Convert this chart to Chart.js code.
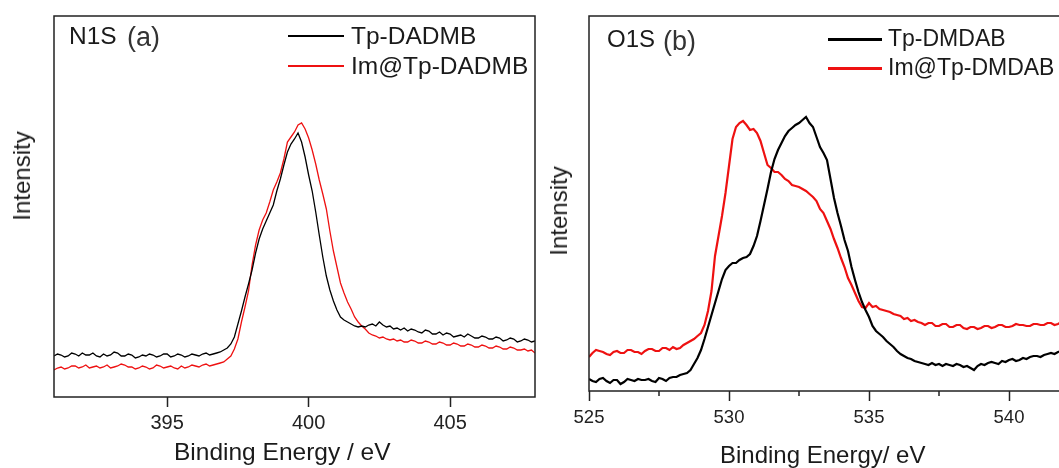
<!DOCTYPE html>
<html>
<head>
<meta charset="utf-8">
<script src="https://cdn.jsdelivr.net/npm/chart.js@4/dist/chart.umd.min.js"></script>
<style>
  html, body { margin: 0; padding: 0; background: #fff; }
  body { width: 1059px; height: 468px; overflow: hidden; position: relative;
         font-family: "Liberation Sans", Arial, sans-serif; color: #1a1a1a; }
  canvas { position: absolute; top: 0; }
  #chartA { left: 0; }
  #chartB { left: 540px; }
  .lbl { position: absolute; white-space: nowrap; line-height: 1; }
  .rot { transform: translate(-50%, -50%) rotate(-90deg); }
  .key { position: absolute; }
</style>
</head>
<body>
<canvas id="chartA" width="540" height="468"></canvas>
<canvas id="chartB" width="540" height="468"></canvas>

<!-- panel (a) texts -->
<div class="lbl" style="left:69px; top:24px; font-size:24.5px;">N1S</div>
<div class="lbl" style="left:127px; top:24px; font-size:27px; font-weight:300; color:#333;">(a)</div>
<div class="key" style="left:288px; top:35px; width:56px; height:1.5px; background:#000;"></div>
<div class="lbl" style="left:351px; top:24px; font-size:24.5px;">Tp-DADMB</div>
<div class="key" style="left:288px; top:65px; width:56px; height:1.5px; background:#ee1111;"></div>
<div class="lbl" style="left:351px; top:54px; font-size:24.5px;">Im@Tp-DADMB</div>
<div class="lbl" style="left:174px; top:440px; font-size:24.5px;">Binding Energy / eV</div>
<div class="lbl rot" style="left:22px; top:176px; font-size:24px;">Intensity</div>

<!-- panel (b) texts -->
<div class="lbl" style="left:607px; top:27px; font-size:24px;">O1S</div>
<div class="lbl" style="left:663px; top:28px; font-size:27px; font-weight:300; color:#333;">(b)</div>
<div class="key" style="left:828px; top:38px; width:54px; height:2.5px; background:#000;"></div>
<div class="lbl" style="left:888px; top:27px; font-size:23px;">Tp-DMDAB</div>
<div class="key" style="left:828px; top:67px; width:54px; height:2.5px; background:#ee1111;"></div>
<div class="lbl" style="left:888px; top:56px; font-size:23px;">Im@Tp-DMDAB</div>
<div class="lbl" style="left:720px; top:443px; font-size:24px;">Binding Energy/ eV</div>
<div class="lbl rot" style="left:559px; top:211px; font-size:24px;">Intensity</div>

<script>
// N1S panel (a)
const energyA = [
  391, 391.125, 391.25, 391.375, 391.5, 391.625, 391.75, 391.875,
  392, 392.125, 392.25, 392.375, 392.5, 392.625, 392.75, 392.875,
  393, 393.125, 393.25, 393.375, 393.5, 393.625, 393.75, 393.875,
  394, 394.125, 394.25, 394.375, 394.5, 394.625, 394.75, 394.875,
  395, 395.125, 395.25, 395.375, 395.5, 395.625, 395.75, 395.875,
  396, 396.125, 396.25, 396.375, 396.5, 396.625, 396.75, 396.875,
  397, 397.125, 397.25, 397.375, 397.5, 397.625, 397.75, 397.875,
  398, 398.125, 398.25, 398.375, 398.5, 398.625, 398.75, 398.875,
  399, 399.125, 399.25, 399.375, 399.5, 399.625, 399.75, 399.875,
  400, 400.125, 400.25, 400.375, 400.5, 400.625, 400.75, 400.875,
  401, 401.125, 401.25, 401.375, 401.5, 401.625, 401.75, 401.875,
  402, 402.125, 402.25, 402.375, 402.5, 402.625, 402.75, 402.875,
  403, 403.125, 403.25, 403.375, 403.5, 403.625, 403.75, 403.875,
  404, 404.125, 404.25, 404.375, 404.5, 404.625, 404.75, 404.875,
  405, 405.125, 405.25, 405.375, 405.5, 405.625, 405.75, 405.875,
  406, 406.125, 406.25, 406.375, 406.5, 406.625, 406.75, 406.875,
  407, 407.125, 407.25, 407.375, 407.5, 407.625, 407.75, 407.875,
  408
];
const tpDadmb = [
  41, 43, 42, 40, 41, 44, 43, 41,
  44, 42, 42, 44, 41, 40, 43, 41,
  42, 45, 44, 41, 41, 43, 42, 39,
  40, 42, 41, 43, 42, 40, 41, 43,
  43, 40, 41, 43, 42, 40, 41, 43,
  42, 41, 43, 44, 42, 43, 44, 45,
  47, 49, 53, 60, 73, 86, 100, 113,
  127, 144, 158, 168, 176, 184, 192, 206,
  218, 232, 245, 253, 258, 264, 255, 240,
  222, 206, 185, 162, 140, 121, 107, 96,
  87, 80, 77, 75, 73, 71, 70, 71,
  70, 72, 73, 71, 75, 72, 70, 71,
  68, 69, 67, 69, 66, 68, 67, 65,
  64, 67, 66, 63, 63, 65, 62, 64,
  63, 60, 61, 62, 60, 63, 61, 59,
  59, 61, 60, 58, 58, 60, 59, 56,
  57, 59, 58, 55, 56, 58, 57, 55,
  56
];
const imTpDadmb = [
  27, 29, 30, 28, 29, 31, 31, 29,
  30, 32, 29, 30, 31, 29, 30, 32,
  29, 30, 31, 33, 32, 30, 30, 28,
  29, 31, 30, 28, 29, 32, 31, 29,
  30, 31, 29, 28, 31, 29, 30, 32,
  31, 30, 32, 33, 31, 32, 33, 34,
  35, 38, 41, 48, 58, 75, 90, 106,
  132, 152, 167, 177, 184, 195, 207, 215,
  224, 238, 255, 260, 265, 272, 274, 268,
  259, 247, 233, 217, 203, 188, 166, 146,
  130, 114, 104, 95, 88, 80, 75, 71,
  68, 64, 62, 61, 59, 60, 58, 57,
  58, 56, 57, 55, 55, 57, 56, 54,
  54, 56, 55, 53, 53, 55, 54, 52,
  52, 54, 53, 51, 51, 53, 52, 50,
  50, 52, 51, 49, 49, 51, 50, 48,
  48, 50, 49, 47, 47, 48, 46, 47,
  44
];
const ticksA = [395, 400, 405];

// O1S panel (b)
const energyB = [
  525, 525.125, 525.25, 525.375, 525.5, 525.625, 525.75, 525.875,
  526, 526.125, 526.25, 526.375, 526.5, 526.625, 526.75, 526.875,
  527, 527.125, 527.25, 527.375, 527.5, 527.625, 527.75, 527.875,
  528, 528.125, 528.25, 528.375, 528.5, 528.625, 528.75, 528.875,
  529, 529.125, 529.25, 529.375, 529.5, 529.625, 529.75, 529.875,
  530, 530.125, 530.25, 530.375, 530.5, 530.625, 530.75, 530.875,
  531, 531.125, 531.25, 531.375, 531.5, 531.625, 531.75, 531.875,
  532, 532.125, 532.25, 532.375, 532.5, 532.625, 532.75, 532.875,
  533, 533.125, 533.25, 533.375, 533.5, 533.625, 533.75, 533.875,
  534, 534.125, 534.25, 534.375, 534.5, 534.625, 534.75, 534.875,
  535, 535.125, 535.25, 535.375, 535.5, 535.625, 535.75, 535.875,
  536, 536.125, 536.25, 536.375, 536.5, 536.625, 536.75, 536.875,
  537, 537.125, 537.25, 537.375, 537.5, 537.625, 537.75, 537.875,
  538, 538.125, 538.25, 538.375, 538.5, 538.625, 538.75, 538.875,
  539, 539.125, 539.25, 539.375, 539.5, 539.625, 539.75, 539.875,
  540, 540.125, 540.25, 540.375, 540.5, 540.625, 540.75, 540.875,
  541, 541.125, 541.25, 541.375, 541.5, 541.625, 541.75, 541.875,
  542
];
const tpDmdab = [
  12, 10, 9, 12, 13, 10, 8, 11,
  11, 7, 9, 12, 11, 10, 12, 11,
  11, 12, 10, 9, 13, 12, 10, 13,
  14, 14, 16, 17, 18, 21, 27, 33,
  41, 52, 64, 76, 88, 100, 112, 121,
  125, 128, 128, 131, 133, 134, 137, 145,
  155, 170, 186, 202, 219, 232, 241, 248,
  255, 260, 263, 266, 268, 271, 274, 268,
  264, 254, 244, 238, 231, 212, 193, 178,
  165, 151, 140, 124, 111, 99, 89, 81,
  74, 65, 60, 57, 54, 50, 47, 44,
  40, 37, 35, 33, 32, 30, 29, 28,
  27, 26, 28, 26, 27, 25, 27, 26,
  25, 27, 26, 24, 25, 23, 21, 25,
  27, 26, 28, 29, 28, 27, 30, 29,
  31, 32, 30, 31, 33, 32, 34, 35,
  35, 34, 36, 37, 38, 37, 39, 40,
  41
];
const imTpDmdab = [
  34, 38, 41, 40, 39, 37, 36, 39,
  40, 38, 38, 41, 41, 39, 39, 37,
  40, 42, 42, 40, 40, 43, 43, 41,
  44, 42, 43, 46, 48, 50, 52, 55,
  58, 66, 80, 100, 135, 155, 175, 198,
  225, 252, 264, 268, 270, 266, 261, 262,
  258, 250, 238, 226, 223, 219, 219, 216,
  212, 210, 206, 205, 204, 202, 200, 197,
  194, 190, 182, 178, 170, 162, 152, 143,
  133, 124, 113, 106, 98, 90, 84, 83,
  88, 84, 85, 82, 81, 80, 79, 77,
  76, 75, 72, 73, 70, 71, 69, 68,
  66, 68, 68, 65, 65, 67, 67, 64,
  64, 66, 66, 63, 62, 64, 64, 62,
  63, 65, 65, 63, 64, 66, 66, 64,
  64, 65, 67, 66, 66, 65, 65, 67,
  67, 66, 66, 68, 68, 66, 67, 69,
  68
];
const ticksB = [525, 530, 535, 540];
const minorTicksB = [527.5, 532.5, 537.5];

const RED = '#ee1111';

// box round the plot area
const framePlugin = {
  id: 'frame',
  afterDatasetsDraw(chart, args, opts) {
    const {ctx, chartArea: a} = chart;
    ctx.save();
    ctx.strokeStyle = opts.color || '#222';
    ctx.lineWidth = opts.width || 1.5;
    ctx.strokeRect(a.left, a.top, a.right - a.left, a.bottom - a.top);
    ctx.restore();
  }
};

// short unlabelled ticks between the major ones
const minorTicksPlugin = {
  id: 'minorTicks',
  afterDraw(chart, args, opts) {
    if (!opts.values || !opts.values.length) return;
    const {ctx, chartArea: a} = chart;
    const x = chart.scales.x;
    ctx.save();
    ctx.strokeStyle = '#222';
    ctx.lineWidth = 1.5;
    opts.values.forEach(v => {
      const px = x.getPixelForValue(v);
      ctx.beginPath();
      ctx.moveTo(px, a.bottom);
      ctx.lineTo(px, a.bottom + opts.length);
      ctx.stroke();
    });
    ctx.restore();
  }
};

function toPoints(xs, ys) {
  return xs.map((x, i) => ({x: x, y: ys[i]}));
}

function makeChart(id, cfg) {
  return new Chart(document.getElementById(id), {
    type: 'line',
    data: {
      datasets: cfg.series.map(s => ({
        label: s.label,
        data: toPoints(cfg.energy, s.values),
        borderColor: s.color,
        borderWidth: cfg.lineWidth,
        pointRadius: 0,
        tension: 0,
        fill: false
      }))
    },
    options: {
      responsive: false,
      animation: false,
      events: [],
      layout: { padding: cfg.padding },
      plugins: {
        legend: { display: false },
        tooltip: { enabled: false },
        frame: { color: '#222', width: 1.5 },
        minorTicks: { values: cfg.minor || [], length: 5 }
      },
      scales: {
        x: {
          type: 'linear',
          min: cfg.xMin,
          max: cfg.xMax,
          afterBuildTicks: scale => { scale.ticks = cfg.ticks.map(v => ({value: v})); },
          afterFit: scale => { scale.height = cfg.xHeight; },
          border: { display: false },
          grid: { drawOnChartArea: false, drawTicks: true, tickLength: 10, tickWidth: 1.5, tickColor: '#222' },
          ticks: {
            color: '#222',
            padding: cfg.tickPad,
            maxRotation: 0,
            autoSkip: false,
            font: { family: '"Liberation Sans", Arial, sans-serif', size: cfg.tickSize },
            callback: v => String(v)
          }
        },
        y: { display: false, min: 0, max: cfg.yMax }
      }
    },
    plugins: [framePlugin, minorTicksPlugin]
  });
}

makeChart('chartA', {
  energy: energyA,
  series: [
    { label: 'Tp-DADMB', values: tpDadmb, color: '#000' },
    { label: 'Im@Tp-DADMB', values: imTpDadmb, color: RED }
  ],
  lineWidth: 1.3,
  xMin: 391, xMax: 408, yMax: 381,
  ticks: ticksA,
  padding: { left: 54, top: 16, right: 5, bottom: 0 },
  xHeight: 71,
  tickPad: 4,
  tickSize: 20
});

makeChart('chartB', {
  energy: energyB,
  series: [
    { label: 'Tp-DMDAB', values: tpDmdab, color: '#000' },
    { label: 'Im@Tp-DMDAB', values: imTpDmdab, color: RED }
  ],
  lineWidth: 2.2,
  xMin: 525, xMax: 542, yMax: 375,
  ticks: ticksB,
  minor: minorTicksB,
  padding: { left: 49, top: 16, right: 15, bottom: 0 },
  xHeight: 77,
  tickPad: 6,
  tickSize: 18.5
});
</script>
</body>
</html>
